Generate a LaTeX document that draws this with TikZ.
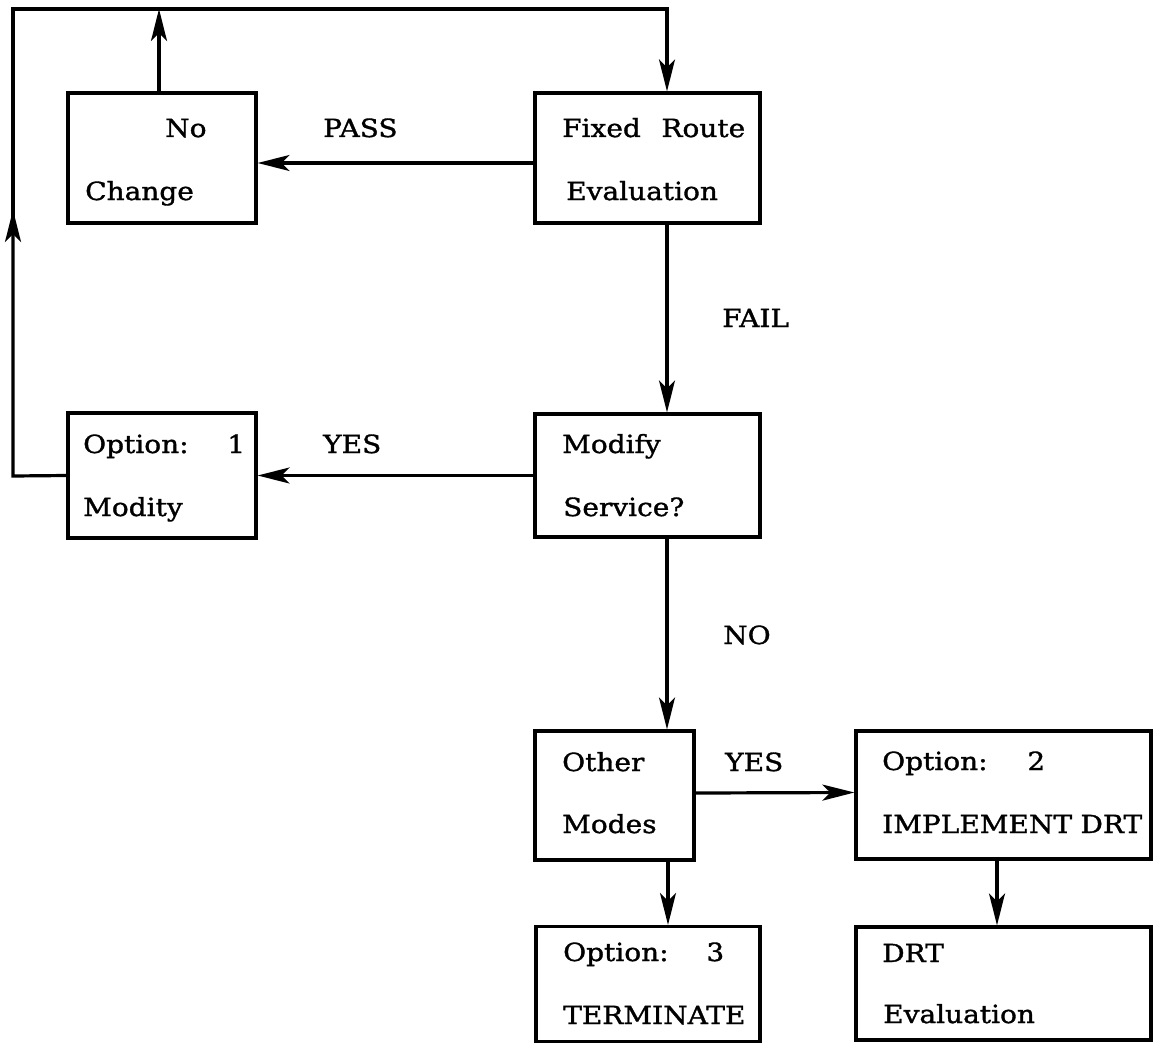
\documentclass[tikz,border=0pt]{standalone}
\usepackage{fontspec}
\setmainfont[FakeStretch=1.12,FakeBold=1.3]{DejaVu Serif}
\usetikzlibrary{arrows.meta}
\begin{document}
\begin{tikzpicture}[x=1pt,y=-1pt,
  box/.style={draw,line width=3.2pt,inner sep=0pt,minimum width=#1},
  txt/.style={anchor=base west,inner sep=0pt,font=\fontsize{25}{30}\selectfont},
  arr/.style={line width=3.2pt,line join=miter,-{Stealth[length=32pt,width=16pt,inset=8pt]}}]
\useasboundingbox (0,0) rectangle (1155,1043);
% boxes
\node[box=188pt,minimum height=130pt] (nochange) at (162,158) {};
\node[box=225pt,minimum height=130pt] (fixed) at (647.5,158) {};
\node[box=188pt,minimum height=125pt] (opt1) at (162,475.5) {};
\node[box=225pt,minimum height=123pt] (modify) at (647.5,475.5) {};
\node[box=159pt,minimum height=129pt] (other) at (614.5,795.5) {};
\node[box=295pt,minimum height=128pt] (opt2) at (1003.5,795) {};
\node[box=224pt,minimum height=115pt] (opt3) at (648,984) {};
\node[box=295pt,minimum height=113pt] (drt) at (1003.5,983.5) {};
% box texts
\node[txt] (tno) at (165,137) {No};
\node[txt] (tch) at (85,200) {Change};
\node[txt] (tfr) at (562,137) {\makebox[183pt][s]{Fixed\hfill Route}};
\node[txt] (tev) at (566,200) {Evaluation};
\node[txt] (to1) at (83,453) {\makebox[162pt][s]{Option:\hfill 1}};
\node[txt] (tmo) at (83,516) {Modity};
\node[txt] (tmf) at (562,453) {Modify};
\node[txt] (tse) at (563,516) {Service?};
\node[txt] (tot) at (562,771) {Other};
\node[txt] (tmd) at (562,833) {Modes};
\node[txt] (to2) at (882,770) {\makebox[163pt][s]{Option:\hfill 2}};
\node[txt] (tim) at (882,833) {\makebox[260pt][s]{IMPLEMENT\hfill DRT}};
\node[txt] (to3) at (563,961) {\makebox[161pt][s]{Option:\hfill 3}};
\node[txt] (tte) at (563,1024) {TERMINATE};
\node[txt] (tdr) at (882,962) {DRT};
\node[txt] (tde) at (883,1023) {Evaluation};
% connector labels
\node[txt] (lpass) at (323,137) {PASS};
\node[txt] (lfail) at (722,327) {FAIL};
\node[txt] (lyes1) at (323,453) {YES};
\node[txt] (lno) at (723,644) {NO};
\node[txt] (lyes2) at (725,771) {YES};
% helper coordinates
\coordinate (vx) at (667,0);
\coordinate (c1) at (13,476);
\coordinate (c2) at (13,210);
\coordinate (c2b) at (13,228);
\coordinate (c3) at (13,9);
\coordinate (c4) at (667,9);
\coordinate (c5) at (159,9);
% connectors
\draw[arr] ([yshift=-5pt]fixed.west) -- ([yshift=-5pt]nochange.east);
\draw[arr] ([xshift=-3pt]nochange.north) -- ([xshift=-3pt]nochange.north |- c5);
\draw[arr] (fixed.south -| vx) -- (modify.north -| vx);
\draw[arr] (modify.west) -- (opt1.east);
\draw[arr] (modify.south -| vx) -- (other.north -| vx);
\draw[arr] ([yshift=2.5pt]other.east) -- ([yshift=2.5pt]opt2.west);
\draw[arr] ([xshift=53.5pt]other.south) -- ([xshift=53.5pt]other.south |- opt3.north);
\draw[arr] ([xshift=-6.5pt]opt2.south) -- ([xshift=-6.5pt]drt.north);
\draw[arr] (opt1.west) -- (c1) -- (c2);
\draw[arr] (c2b) -- (c3) -- (c4) -- (fixed.north -| vx);
\end{tikzpicture}
\end{document}
